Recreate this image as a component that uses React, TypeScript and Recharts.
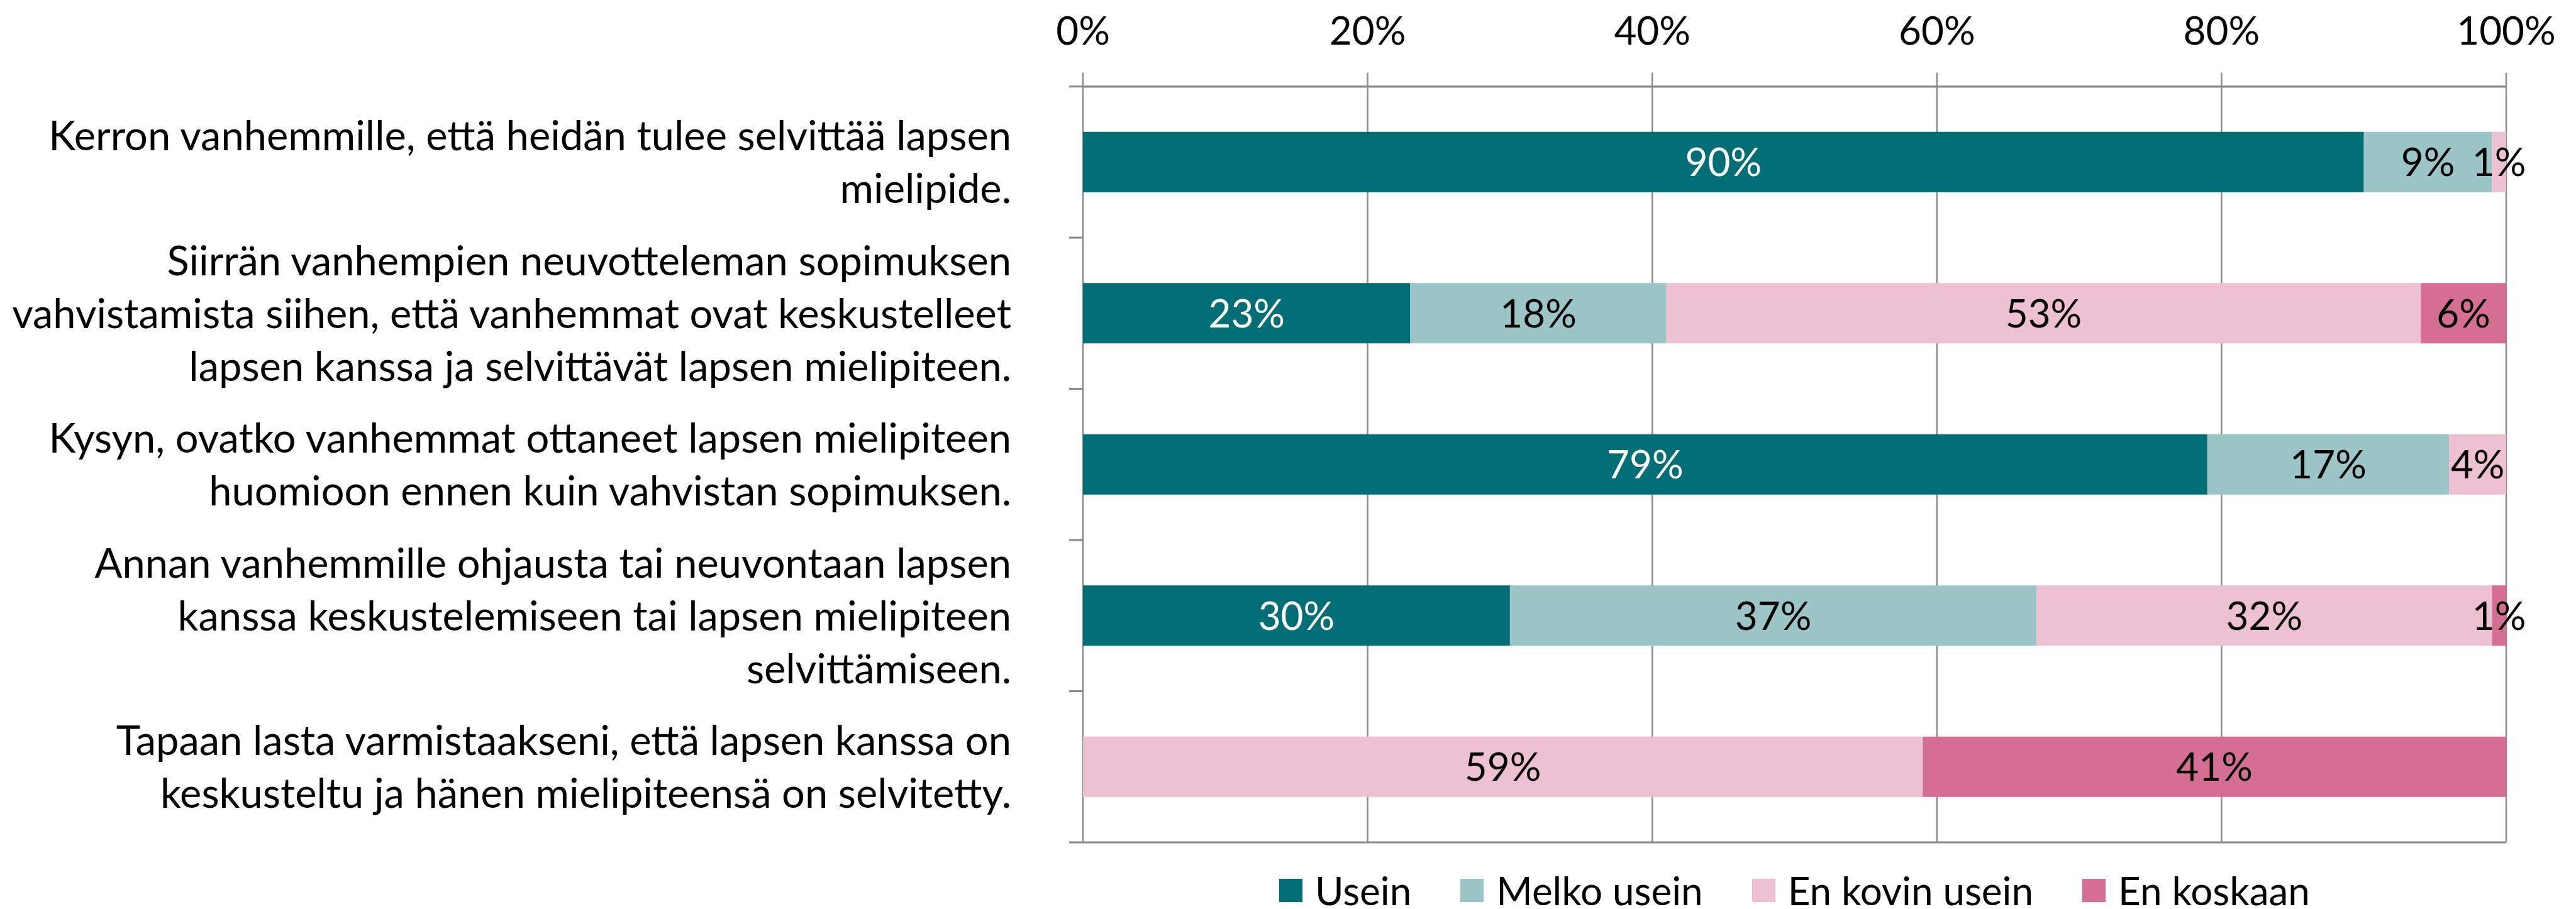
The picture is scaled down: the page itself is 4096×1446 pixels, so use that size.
import React from 'react';
import { BarChart, Bar, XAxis, YAxis, CartesianGrid, Legend, LabelList } from 'recharts';

const categories = [
  'Kerron vanhemmille, että heidän tulee selvittää lapsen\nmielipide.',
  'Siirrän vanhempien neuvotteleman sopimuksen\nvahvistamista siihen, että vanhemmat ovat keskustelleet\nlapsen kanssa ja selvittävät lapsen mielipiteen.',
  'Kysyn, ovatko vanhemmat ottaneet lapsen mielipiteen\nhuomioon ennen kuin vahvistan sopimuksen.',
  'Annan vanhemmille ohjausta tai neuvontaan lapsen\nkanssa keskustelemiseen tai lapsen mielipiteen\nselvittämiseen.',
  'Tapaan lasta varmistaakseni, että lapsen kanssa on\nkeskusteltu ja hänen mielipiteensä on selvitetty.',
];
const usein = [90, 23, 79, 30, 0];
const melkoUsein = [9, 18, 17, 37, 0];
const enKovinUsein = [1, 53, 4, 32, 59];
const enKoskaan = [0, 6, 0, 1, 41];
const xTicks = [0, 20, 40, 60, 80, 100];

const seriesNames = ['Usein', 'Melko usein', 'En kovin usein', 'En koskaan'];
const seriesColors = ['#016d74', '#9bc5c7', '#edc1d1', '#d46e92'];
const labelColors = ['#ffffff', '#000000', '#000000', '#000000'];

const data = categories.map((name, i) => ({
  name,
  s0: usein[i],
  s1: melkoUsein[i],
  s2: enKovinUsein[i],
  s3: enKoskaan[i],
}));

const FONT = 'Lato, "Open Sans", sans-serif';
const FS = 62;
const CAT_FS = 65;
const GRID = '#8a8a8a';
const CAT_MARGIN = 114;
const CAT_TICK_LEN = 22;

const CatTick = (props: any) => {
  const { x, y, payload, index, visibleTicksCount } = props;
  const lines: string[] = String(payload.value).split('\n');
  const lh = 84;
  const start = -((lines.length - 1) / 2) * lh;
  const half = payload.offset || 0;
  const axisX = x + CAT_MARGIN;
  const isLast = index === (visibleTicksCount ?? categories.length) - 1;
  return (
    <g>
      <line x1={axisX - CAT_TICK_LEN} x2={axisX} y1={y - half} y2={y - half} stroke={GRID} strokeWidth={3} />
      {isLast && (
        <line x1={axisX - CAT_TICK_LEN} x2={axisX} y1={y + half} y2={y + half} stroke={GRID} strokeWidth={3} />
      )}
      <text x={x} y={y} textAnchor="end" fontFamily={FONT} fontSize={CAT_FS} fill="#000">
        {lines.map((l, i) => (
          <tspan key={i} x={x} y={y + start + i * lh} dy="0.36em">
            {l}
          </tspan>
        ))}
      </text>
    </g>
  );
};

const makeLabel = (color: string) => (props: any) => {
  const { x, y, width, height, value } = props;
  if (!value) return null;
  return (
    <text
      x={x + width / 2}
      y={y + height / 2}
      dy="0.36em"
      textAnchor="middle"
      fontFamily={FONT}
      fontSize={FS}
      fill={color}
    >
      {`${value}%`}
    </text>
  );
};

const LegendContent = (props: any) => {
  const payload = [...(props.payload || [])].sort(
    (a: any, b: any) => seriesNames.indexOf(a.value) - seriesNames.indexOf(b.value)
  );
  return (
    <div
      style={{
        display: 'flex',
        justifyContent: 'center',
        alignItems: 'center',
        height: 52,
        paddingLeft: 1722,
        paddingRight: 111,
        boxSizing: 'border-box',
        fontFamily: FONT,
        fontSize: FS,
        color: '#000',
        gap: 78,
      }}
    >
      {payload.map((p: any, i: number) => (
        <div key={i} style={{ display: 'flex', alignItems: 'center' }}>
          <div style={{ width: 37, height: 37, background: p.color, marginRight: 20 }} />
          <span style={{ lineHeight: '52px', whiteSpace: 'nowrap' }}>{p.value}</span>
        </div>
      ))}
    </div>
  );
};

export default function App() {
  return (
    <div style={{ position: 'absolute', left: 0, top: 0, width: 4096, height: 1446, background: '#fff' }}>
      <BarChart
        width={4096}
        height={1446}
        data={data}
        layout="vertical"
        barCategoryGap="30%"
        margin={{ top: 0, right: 111, bottom: 54, left: 0 }}
      >
        <CartesianGrid xAxisId="top" yAxisId="cat" horizontal={false} vertical stroke={GRID} strokeWidth={2.4} />
        <CartesianGrid
          xAxisId="top"
          yAxisId="cat"
          vertical={false}
          horizontal
          stroke={GRID}
          strokeWidth={3.2}
          horizontalCoordinatesGenerator={({ offset }: any) => [offset.top, offset.top + offset.height]}
        />
        <XAxis
          xAxisId="top"
          type="number"
          orientation="top"
          domain={[0, 100]}
          ticks={xTicks}
          tickFormatter={(v: number) => `${v}%`}
          height={137.6}
          tickSize={22}
          tickMargin={45}
          axisLine={{ stroke: GRID, strokeWidth: 3.2 }}
          tickLine={{ stroke: GRID, strokeWidth: 2.4 }}
          tick={{ fontFamily: FONT, fontSize: FS, fill: '#000' }}
          interval={0}
        />
        <YAxis
          yAxisId="cat"
          type="category"
          dataKey="name"
          width={1722}
          axisLine={false}
          tickLine={false}
          tickSize={0}
          tickMargin={CAT_MARGIN}
          tick={<CatTick />}
          interval={0}
        />
        <Legend
          content={<LegendContent />}
          wrapperStyle={{ top: 1390, left: 0, width: 4096, height: 52 }}
        />
        {seriesNames.map((name, i) => (
          <Bar
            key={name}
            xAxisId="top"
            yAxisId="cat"
            dataKey={`s${i}`}
            name={name}
            stackId="a"
            fill={seriesColors[i]}
            isAnimationActive={false}
          >
            <LabelList dataKey={`s${i}`} content={makeLabel(labelColors[i])} />
          </Bar>
        ))}
      </BarChart>
    </div>
  );
}
